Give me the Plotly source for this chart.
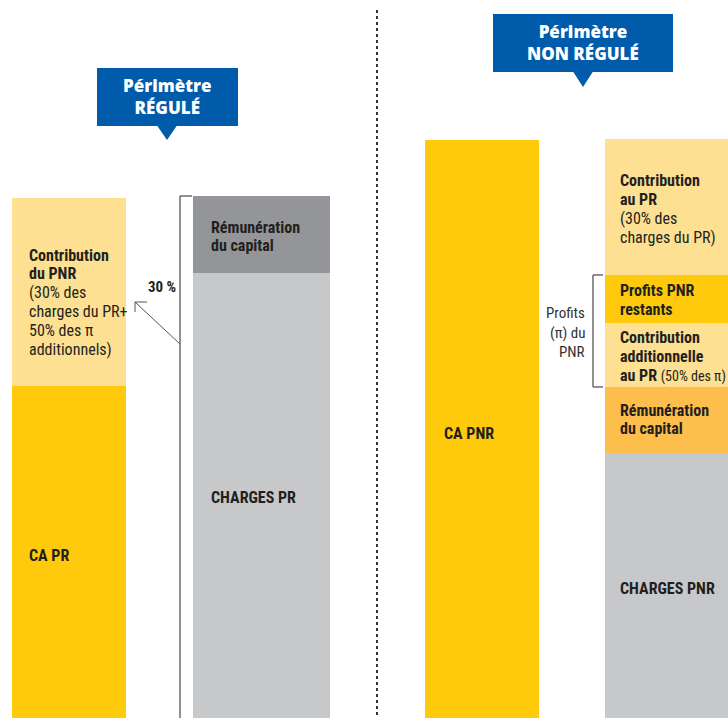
import plotly.graph_objects as go

# ---------------- data ----------------
bars = ["CA PR", "Charges PR", "CA PNR", "Charges PNR"]

# stacked segment heights (bottom -> top), arbitrary units
pr_revenue_labels = ["CA PR", "Contribution du PNR"]
pr_revenue_values = [332, 188]

pr_cost_labels = ["Charges PR", "Rémunération du capital"]
pr_cost_values = [445, 77]

pnr_revenue_labels = ["CA PNR"]
pnr_revenue_values = [578]

pnr_cost_labels = ["Charges PNR", "Rémunération du capital",
                   "Contribution additionnelle au PR", "Profits PNR restants",
                   "Contribution au PR"]
pnr_cost_values = [265, 66, 64, 48, 136]

# ---------------- styles / geometry ----------------
YELLOW = "#FFCA0B"
LIGHT_YELLOW = "#FDE092"
ORANGE = "#FDBE4C"
DARK_GRAY = "#939598"
LIGHT_GRAY = "#C7C8CA"
BLUE = "#005BAA"
TXT = "#231F20"
LINE = "#555555"

W, H = 728, 718
bar_geom = {  # centre, width (px-units on a 0..728 axis)
    "CA PR": (69, 114),
    "Charges PR": (261.5, 137),
    "CA PNR": (482, 114),
    "Charges PNR": (682.5, 155),
}
colors = {
    "CA PR": [YELLOW, LIGHT_YELLOW],
    "Charges PR": [LIGHT_GRAY, DARK_GRAY],
    "CA PNR": [YELLOW],
    "Charges PNR": [LIGHT_GRAY, ORANGE, LIGHT_YELLOW, YELLOW, LIGHT_YELLOW],
}
stacks = {
    "CA PR": (pr_revenue_labels, pr_revenue_values),
    "Charges PR": (pr_cost_labels, pr_cost_values),
    "CA PNR": (pnr_revenue_labels, pnr_revenue_values),
    "Charges PNR": (pnr_cost_labels, pnr_cost_values),
}

fig = go.Figure()
for b in bars:
    cx, w = bar_geom[b]
    labels, vals = stacks[b]
    base = 0
    for lab, v, c in zip(labels, vals, colors[b]):
        fig.add_trace(go.Bar(x=[cx], y=[v], base=[base], width=[w],
                             marker=dict(color=c, line=dict(width=0)),
                             name=lab, showlegend=False, hoverinfo="skip"))
        base += v

COND = "Roboto Condensed, Roboto, sans-serif"
TITLE_FONT = "Open Sans, sans-serif"


def Y(py):  # pixel row -> data y
    return H - py


def block(lines, x, py0, step=19, size=16, xanchor="left", color=TXT):
    for i, t in enumerate(lines):
        fig.add_annotation(x=x, y=Y(py0 + i * step), text=t, showarrow=False,
                           xanchor=xanchor, yanchor="middle",
                           font=dict(family=COND, size=size, color=color))


B = lambda s: "<b>" + s + "</b>"
SM = "<span style='font-size:14px'>"

block([B("Contribution"), B("du PNR"), "(30% des", "charges du PR+", "50% des π", "additionnels)"],
      27, 255, step=18.8)
block([B("CA PR")], 27, 555)
block([B("Rémunération"), B("du capital")], 209, 227, step=18)
block([B("CHARGES PR")], 209, 497)
block([B("30 %")], 146, 287, size=15)
block([B("CA PNR")], 442, 433)
block([B("Contribution"), B("au PR"), "(30% des", "charges du PR)"], 618, 180)
block([B("Profits PNR"), B("restants")], 618, 290)
block([B("Contribution"), B("additionnelle"), B("au PR") + " " + SM + "(50% des π)</span>"], 618, 337)
block([B("Rémunération"), B("du capital")], 618, 410, step=18)
block([B("CHARGES PNR")], 618, 588)
block(["Profits", "(π) du", "PNR"], 587, 313, step=19.5, size=15, xanchor="right", color="#333333")


# title callouts
def callout(x0, x1, y0, y1, tip_x, tip_y, half, text):
    fig.add_shape(type="rect", x0=x0, x1=x1, y0=Y(y0), y1=Y(y1),
                  fillcolor=BLUE, line=dict(width=0))
    fig.add_shape(type="path",
                  path=f"M {tip_x-half},{Y(y1-0.5)} L {tip_x+half},{Y(y1-0.5)} L {tip_x},{Y(tip_y)} Z",
                  fillcolor=BLUE, line=dict(width=0))
    fig.add_annotation(x=(x0 + x1) / 2, y=Y((y0 + y1) / 2 - 1), text=text, showarrow=False,
                       xanchor="center", yanchor="middle", align="center",
                       font=dict(family=TITLE_FONT, size=17, color="white", weight=800))


callout(97, 238, 68, 126, 167, 140, 10, "Périmètre<br>RÉGULÉ")
callout(493, 673, 14, 72, 583, 87, 10, "Périmètre<br>NON RÉGULÉ")


# brackets and arrow
def seg(x0, py0, x1, py1, color=LINE, width=1.3, dash=None):
    fig.add_shape(type="line", x0=x0, y0=Y(py0), x1=x1, y1=Y(py1),
                  line=dict(color=color, width=width, dash=dash))


seg(180, 196, 180, 718)
seg(180, 196, 192, 196)
seg(180, 344, 135, 302, width=1)
seg(135, 302, 147, 302, width=1)
seg(135, 302, 135, 312, width=1)

seg(593, 275, 593, 387)
seg(593, 275, 603, 275)
seg(593, 387, 603, 387)

# dotted separator
seg(377, 10, 377, 718, color="#333333", width=2, dash="dot")

fig.update_layout(
    width=W, height=H, margin=dict(l=0, r=0, t=0, b=0),
    paper_bgcolor="white", plot_bgcolor="white",
    barmode="overlay", bargap=0,
    xaxis=dict(range=[0, W], visible=False, fixedrange=True),
    yaxis=dict(range=[0, H], visible=False, fixedrange=True),
)
fig.write_html("out.html")
